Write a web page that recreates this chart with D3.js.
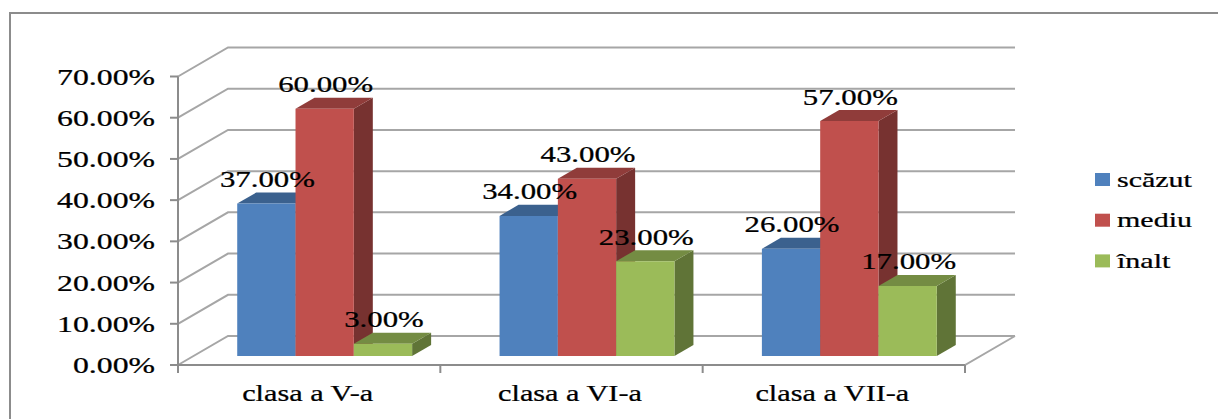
<!DOCTYPE html>
<html>
<head>
<meta charset="utf-8">
<script src="https://cdn.jsdelivr.net/npm/d3@7"></script>
<style>
  body { margin: 0; background: #fff; }
</style>
</head>
<body>
<div id="chart"></div>
<script>
// data
var categories = ["clasa a V-a", "clasa a VI-a", "clasa a VII-a"];
var series = ["scăzut", "mediu", "înalt"];
var scazut = [0.37, 0.34, 0.26];
var mediu = [0.60, 0.43, 0.57];
var inalt = [0.03, 0.23, 0.17];
var yTicks = [0, 0.1, 0.2, 0.3, 0.4, 0.5, 0.6, 0.7];
var colors = ["#4F81BD", "#C0504D", "#9BBB59"];

var values = [scazut, mediu, inalt];

var W = 1218, H = 419;
var FONT = "Liberation Serif";

// depth of the 3d box and where the bars sit inside it
var depth = {dx: 50, dy: -29};
var barFront = 0.31, barBack = 0.69;

var svg = d3.select("#chart")
  .append("svg")
  .attr("width", W)
  .attr("height", H);

// the picture is stretched sideways, so widen text to the widths seen
function fit(str, size, width) {
  var probe = svg.append("text")
    .attr("font-family", FONT)
    .attr("font-size", size)
    .text(str);
  var k = width / probe.node().getComputedTextLength();
  probe.remove();
  return k;
}
var sxAxis = fit("70.00%", 23, 98);
var sxCat = fit("clasa a V-a", 22.5, 131);
var sxLab = fit("60.00%", 22.5, 95);
var sxLeg = fit("scăzut", 22, 75);

// outer frame
svg.append("rect")
  .attr("x", 10).attr("y", 13)
  .attr("width", W + 50).attr("height", H + 50)
  .attr("fill", "none")
  .attr("stroke", "#8c8c8c")
  .attr("stroke-width", 2);

var x = d3.scaleBand()
  .domain(categories)
  .range([178, 965]);

var y = d3.scaleLinear()
  .domain([0, 0.7])
  .range([365, 76.5]);

var inner = d3.scaleBand()
  .domain(series)
  .range([0, x.step()])
  .paddingInner(0)
  .paddingOuter(0.75);

function P(px, py, t) {
  return [px + depth.dx * t, py + depth.dy * t];
}

var grid = svg.append("g")
  .attr("stroke", "#a6a6a6")
  .attr("stroke-width", 2)
  .attr("fill", "none");

// back wall + side wall lines
yTicks.forEach(function (v) {
  var a = P(178, y(v), 0), b = P(178, y(v), 1), c = P(x.range()[1], y(v), 1);
  grid.append("path")
    .attr("d", "M" + a + "L" + b + "L" + c);
});

// floor
var f0 = P(178, y(0), 0), f1 = P(965, y(0), 0), f2 = P(965, y(0), 1);
grid.append("path")
  .attr("d", "M" + f0 + "L" + f1 + "L" + f2);

// y axis line and ticks
var axisG = svg.append("g")
  .attr("stroke", "#8c8c8c")
  .attr("stroke-width", 2);
axisG.append("line")
  .attr("x1", 178).attr("x2", 178)
  .attr("y1", y(0.7)).attr("y2", y(0) + 1);
axisG.selectAll(".yt")
  .data(yTicks)
  .enter().append("line")
  .attr("x1", 170).attr("x2", 178)
  .attr("y1", d => y(d)).attr("y2", d => y(d));
axisG.append("line")
  .attr("x1", 178).attr("x2", 965)
  .attr("y1", y(0)).attr("y2", y(0));
var catTicks = categories.map(d => x(d)).concat([x.range()[1]]);
axisG.selectAll(".xt")
  .data(catTicks)
  .enter().append("line")
  .attr("x1", d => d).attr("x2", d => d)
  .attr("y1", y(0)).attr("y2", y(0) + 8);

var textG = svg.append("g")
  .attr("font-family", FONT)
  .attr("fill", "#000")
  .attr("stroke", "#000")
  .attr("stroke-width", 0.25);

// y tick labels
textG.selectAll(".ylab")
  .data(yTicks)
  .enter().append("text")
  .attr("transform", d => "translate(155," + (y(d) + 8) + ") scale(" + sxAxis + ",1)")
  .attr("text-anchor", "end")
  .attr("font-size", 23)
  .text(d => (d * 100).toFixed(2) + "%");

// category labels
textG.selectAll(".xlab")
  .data(categories)
  .enter().append("text")
  .attr("transform", d => "translate(" + (x(d) + x.bandwidth() / 2 - 1.5) + ",401) scale(" + sxCat + ",1)")
  .attr("text-anchor", "middle")
  .attr("font-size", 22.5)
  .text(d => d);

// bars
var bars = [];
categories.forEach(function (cat, ci) {
  series.forEach(function (s, si) {
    bars.push({cat: cat, s: s, si: si, v: values[si][ci]});
  });
});

var barG = svg.append("g");
bars.forEach(function (d) {
  var x0 = x(d.cat) + inner(d.s), x1 = x0 + inner.bandwidth();
  var yb = y(0), yt = y(d.v);
  var c = d3.color(colors[d.si]);
  var top = d3.rgb(c.r * 0.75, c.g * 0.75, c.b * 0.75);
  var side = d3.rgb(c.r * 0.62, c.g * 0.62, c.b * 0.62);
  var a = P(x0, yt, barFront), b = P(x1, yt, barFront),
      bb = P(x1, yb, barFront), ab = P(x0, yb, barFront);
  var a2 = P(x0, yt, barBack), b2 = P(x1, yt, barBack), bb2 = P(x1, yb, barBack);
  barG.append("path")
    .attr("d", "M" + b + "L" + b2 + "L" + bb2 + "L" + bb + "Z")
    .attr("fill", side);
  barG.append("path")
    .attr("d", "M" + a + "L" + a2 + "L" + b2 + "L" + b + "Z")
    .attr("fill", top);
  barG.append("path")
    .attr("d", "M" + a + "L" + b + "L" + bb + "L" + ab + "Z")
    .attr("fill", c);
});

// data labels, drawn over the bars
var labG = svg.append("g")
  .attr("font-family", FONT)
  .attr("fill", "#000")
  .attr("stroke", "#000")
  .attr("stroke-width", 0.25);
labG.selectAll(".dlab")
  .data(bars)
  .enter().append("text")
  .attr("transform", function (d) {
    var cx = x(d.cat) + inner(d.s) + inner.bandwidth() / 2;
    var p = P(cx, y(d.v), barFront);
    var q = P(cx, y(d.v), barBack);
    return "translate(" + (p[0] + 1) + "," + (q[1] - 5.5) + ") scale(" + sxLab + ",1)";
  })
  .attr("text-anchor", "middle")
  .attr("font-size", 22.5)
  .text(d => (d.v * 100).toFixed(2) + "%");

// legend
var legend = svg.append("g");
series.forEach(function (s, i) {
  var ly = 173 + i * 40.7;
  legend.append("rect")
    .attr("x", 1095).attr("y", ly)
    .attr("width", 15).attr("height", 13)
    .attr("fill", colors[i]);
  legend.append("text")
    .attr("transform", "translate(1117," + (ly + 13.5) + ") scale(" + sxLeg + ",1)")
    .attr("font-family", FONT)
    .attr("font-size", 22)
    .attr("stroke", "#000")
    .attr("stroke-width", 0.25)
    .text(s);
});
</script>
</body>
</html>
